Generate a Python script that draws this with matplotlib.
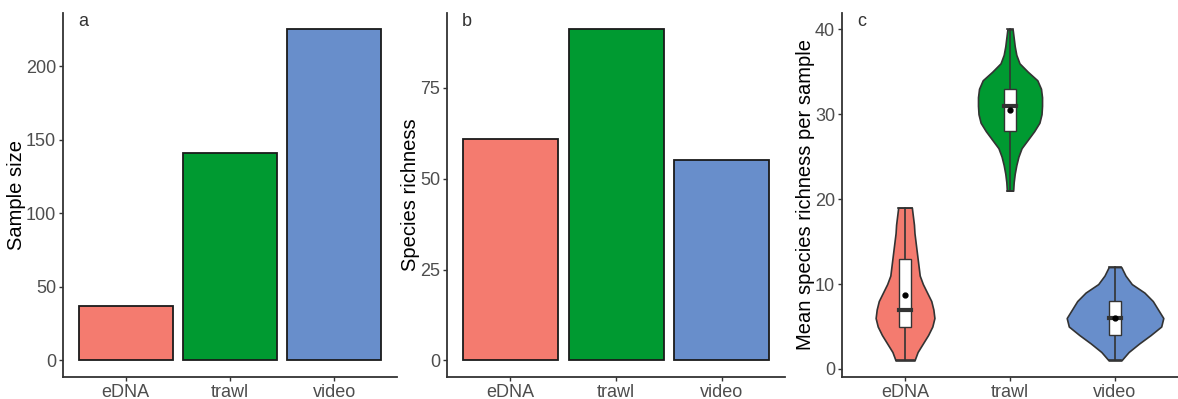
import matplotlib.pyplot as plt
from matplotlib.patches import Rectangle
import numpy as np

# 数据
methods = ['eDNA', 'trawl', 'video']
colors = ['#F47B6F', '#009A31', '#688ECB']

sample_size = [37, 141, 225]
species_richness = [61, 91, 55]

# 小提琴轮廓 (y 值, 半宽)
edna_y = [1, 2, 3, 4, 5, 6, 7, 8, 9, 10, 11, 12, 13, 14, 15, 16, 17, 18, 19]
edna_w = [0.09, 0.12, 0.17, 0.22, 0.26, 0.28, 0.27, 0.25, 0.21, 0.17, 0.14, 0.13, 0.12, 0.11, 0.10, 0.09, 0.085, 0.075, 0.065]
trawl_y = [21, 22, 23, 24, 25, 26, 27, 28, 29, 30, 31, 32, 33, 34, 35, 36, 37, 38, 39, 40]
trawl_w = [0.03, 0.035, 0.045, 0.06, 0.08, 0.11, 0.17, 0.23, 0.28, 0.30, 0.305, 0.305, 0.295, 0.26, 0.17, 0.09, 0.06, 0.045, 0.035, 0.025]
video_y = [1, 2, 3, 4, 5, 6, 7, 8, 9, 10, 11, 12]
video_w = [0.06, 0.13, 0.23, 0.34, 0.44, 0.46, 0.41, 0.36, 0.28, 0.16, 0.10, 0.06]

# 箱线图统计量
box_min = [1, 21, 1]
box_q1 = [5, 28, 4]
box_med = [7, 31, 6]
box_q3 = [13, 33, 8]
box_max = [19, 40, 12]
box_mean = [8.7, 30.5, 6.0]

plt.rcParams['font.family'] = ['Liberation Sans', 'DejaVu Sans']

fig = plt.figure(figsize=(11.78, 3.99), dpi=100)
ax1 = fig.add_axes([0.0535, 0.055, 0.2835, 0.913])
ax2 = fig.add_axes([0.3795, 0.055, 0.287, 0.913])
ax3 = fig.add_axes([0.7148, 0.055, 0.2852, 0.913])

x = np.arange(1, 4)

def style(ax, letter, ylabel):
    for s in ['top', 'right']:
        ax.spines[s].set_visible(False)
    for s in ['left', 'bottom']:
        ax.spines[s].set_color('#333333')
        ax.spines[s].set_linewidth(1.3)
    ax.tick_params(colors='#333333', labelcolor='#4D4D4D', labelsize=13, length=3, width=1, pad=2)
    ax.set_xticks(x)
    ax.set_xticklabels(methods)
    ax.set_xlim(0.4, 3.6)
    ax.set_ylabel(ylabel, fontsize=14.5, color='black', labelpad=0)
    ax.text(0.045, 1.0, letter, transform=ax.transAxes, fontsize=13, color='#333333', va='top', ha='left')

# a 样本量
ax1.bar(x, sample_size, width=0.9, color=colors, edgecolor='#1a1a1a', linewidth=1.3)
ax1.set_ylim(-0.05 * max(sample_size), 1.05 * max(sample_size))
ax1.set_yticks([0, 50, 100, 150, 200])
style(ax1, 'a', 'Sample size')

# b 物种丰富度
ax2.bar(x, species_richness, width=0.9, color=colors, edgecolor='#1a1a1a', linewidth=1.3)
ax2.set_ylim(-0.05 * max(species_richness), 1.05 * max(species_richness))
ax2.set_yticks([0, 25, 50, 75])
style(ax2, 'b', 'Species richness')

# c 小提琴图
profiles = [(edna_y, edna_w), (trawl_y, trawl_w), (video_y, video_w)]
for i, (vy, vw) in enumerate(profiles):
    pos = x[i]
    vy = np.array(vy)
    vw = np.array(vw)
    ax3.fill_betweenx(vy, pos - vw, pos + vw, facecolor=colors[i], edgecolor='#333333', linewidth=1.2, zorder=2)
    ax3.plot([pos - vw[0], pos + vw[0]], [vy[0], vy[0]], color='#333333', linewidth=1.2, zorder=2)
    ax3.plot([pos - vw[-1], pos + vw[-1]], [vy[-1], vy[-1]], color='#333333', linewidth=1.2, zorder=2)
    # 须线
    ax3.plot([pos, pos], [box_min[i], box_max[i]], color='#333333', linewidth=1.2, zorder=3)
    bw = 0.11
    ax3.add_patch(Rectangle((pos - bw / 2, box_q1[i]), bw, box_q3[i] - box_q1[i],
                            facecolor='white', edgecolor='#333333', linewidth=1.0, zorder=4))
    ax3.plot([pos - bw / 2, pos + bw / 2], [box_med[i], box_med[i]], color='#333333', linewidth=3, zorder=5)
    ax3.plot(pos, box_mean[i], 'o', color='black', markersize=3.5, zorder=6)

rng = max(box_max) - min(box_min)
ax3.set_ylim(min(box_min) - 0.05 * rng, max(box_max) + 0.05 * rng)
ax3.set_yticks([0, 10, 20, 30, 40])
style(ax3, 'c', 'Mean species richness per sample')

plt.savefig('out.png', dpi=100)
